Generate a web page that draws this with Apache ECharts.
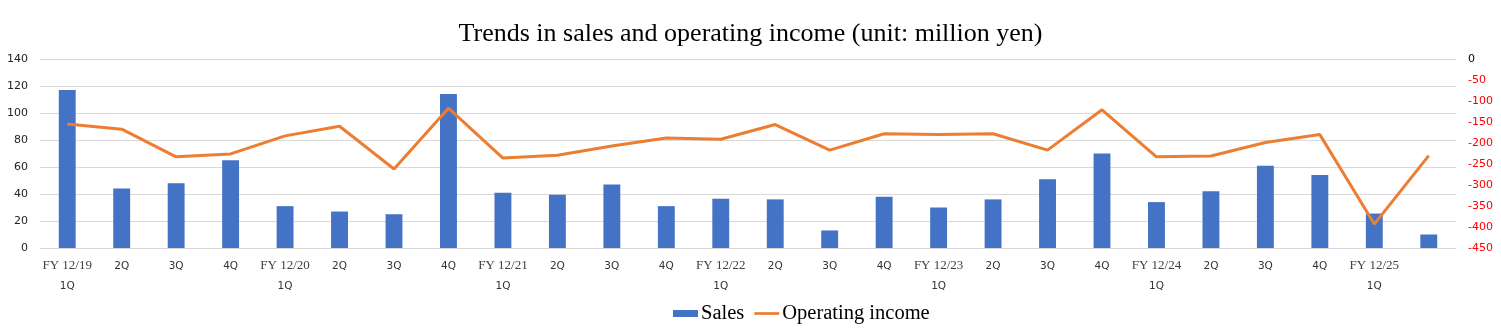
<!DOCTYPE html>
<html><head><meta charset="utf-8">
<script src="https://cdn.jsdelivr.net/npm/echarts@6/dist/echarts.min.js"></script>
<style>html,body{margin:0;padding:0;background:#fff}#c{width:1501px;height:328px}</style>
</head><body><div id="c"></div>
<script>
const categories = ["FY 12/19|1Q","2Q","3Q","4Q","FY 12/20|1Q","2Q","3Q","4Q","FY 12/21|1Q","2Q","3Q","4Q","FY 12/22|1Q","2Q","3Q","4Q","FY 12/23|1Q","2Q","3Q","4Q","FY 12/24|1Q","2Q","3Q","4Q","FY 12/25|1Q",""];
const sales = [117,44,48,65,31,27,25,114,41,39.5,47,31,36.5,36,13,38,30,36,51,70,34,42,61,54,25.5,10];
const operatingIncome = [-155,-167,-233,-226,-183,-160,-262,-117,-236,-229,-207,-188,-191,-156,-217,-178,-180,-178,-217,-121,-233,-231,-199,-180,-393,-230];
const leftTicks = {min:0,max:140,interval:20};
const rightTicks = {min:-450,max:0,interval:50};

const chart = echarts.init(document.getElementById('c'));
chart.setOption({
  animation:false,
  title:{text:'Trends in sales and operating income (unit: million yen)',left:'center',top:16,
    textStyle:{fontFamily:'Liberation Serif',fontSize:26,fontWeight:'normal',color:'#000'}},
  legend:{top:298,left:668,itemGap:10,
    textStyle:{fontFamily:'Liberation Serif',fontSize:20.5,color:'#000',padding:[0,0,0,-2]},
    data:[{name:'Sales',icon:'rect',itemStyle:{color:'#4472C4'}},
          {name:'Operating income',icon:'path://M0,0H28V3H0Z',itemStyle:{color:'#ED7D31'}}],
    itemWidth:25,itemHeight:7},
  grid:{left:40,right:45,top:59,bottom:80,containLabel:false},
  xAxis:{type:'category',data:categories,
    axisLine:{show:false},axisTick:{show:false},
    axisLabel:{interval:0,margin:8,
      formatter:function(v){
        if(v.indexOf('|')>=0){const p=v.split('|');return '{a|'+p[0]+'}\n{b|'+p[1]+'}';}
        return '{b|'+v+'}';
      },
      rich:{a:{fontFamily:'Liberation Serif',fontSize:13,color:'#404040',lineHeight:20},
            b:{fontFamily:'DejaVu Sans',fontSize:10.5,color:'#333',lineHeight:20}}}
  },
  yAxis:[
    {type:'value',min:leftTicks.min,max:leftTicks.max,interval:leftTicks.interval,
     axisLine:{show:false},axisTick:{show:false},
     axisLabel:{fontFamily:'DejaVu Sans',fontSize:11,color:'#222',margin:12},
     splitLine:{lineStyle:{color:'#d9d9d9',width:1}}},
    {type:'value',min:rightTicks.min,max:rightTicks.max,interval:rightTicks.interval,
     axisLine:{show:false},axisTick:{show:false},splitLine:{show:false},
     axisLabel:{fontFamily:'DejaVu Sans',fontSize:11,margin:12,
       color:function(v){return Number(v)===0?'#000':'#ff0000';}}}
  ],
  series:[
    {name:'Sales',type:'bar',data:sales,barWidth:'31%',itemStyle:{color:'#4472C4'},yAxisIndex:0},
    {name:'Operating income',type:'line',data:operatingIncome,yAxisIndex:1,
     symbol:'none',lineStyle:{color:'#ED7D31',width:3},itemStyle:{color:'#ED7D31'}}
  ]
});
</script></body></html>
